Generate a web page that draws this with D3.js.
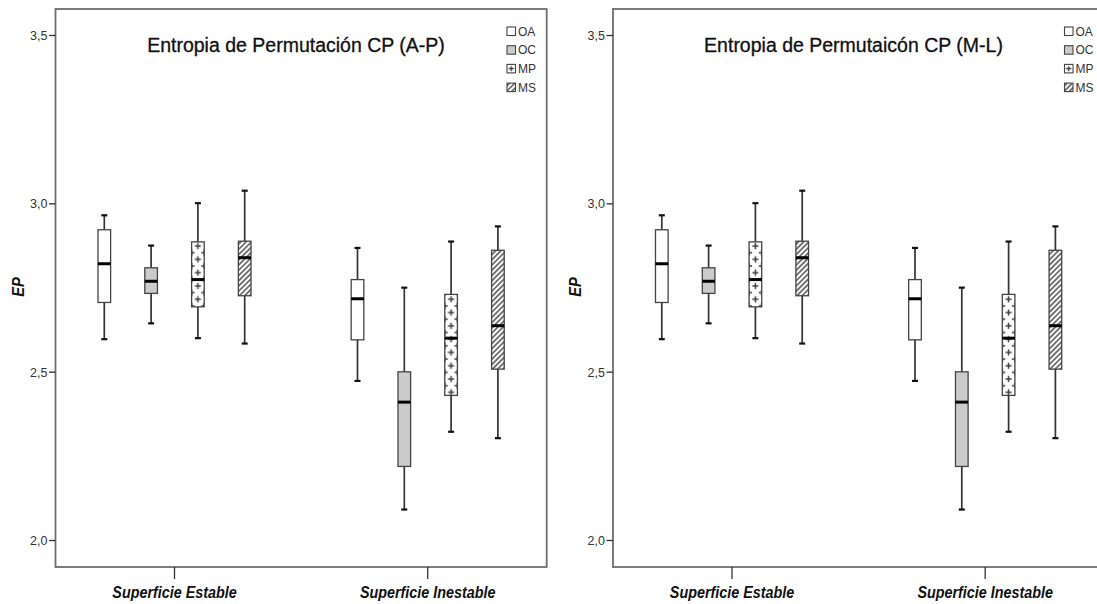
<!DOCTYPE html>
<html>
<head>
<meta charset="utf-8">
<script src="https://cdn.jsdelivr.net/npm/d3@7"></script>
<style>
  html, body { margin: 0; padding: 0; background: #fff; }
  svg { display: block; font-family: "Liberation Sans", Arial, sans-serif; }
</style>
</head>
<body>
<script>
// Permutation entropy (EP) box plots by surface and group
const categories = ["Superficie Estable", "Superficie Inestable"];
const groups = ["OA", "OC", "MP", "MS"];
const panelTitles = ["Entropia de Permutación CP (A-P)", "Entropia de Permutaicón CP (M-L)"];
const yTicks = [2.0, 2.5, 3.0, 3.5];

// box statistics, rows = surface, columns = group (OA, OC, MP, MS)
const whiskerLow  = [[2.598, 2.645, 2.601, 2.585], [2.474, 2.092, 2.323, 2.304]];
const quartile1   = [[2.707, 2.734, 2.694, 2.727], [2.596, 2.220, 2.431, 2.509]];
const medians     = [[2.822, 2.770, 2.775, 2.840], [2.718, 2.411, 2.601, 2.638]];
const quartile3   = [[2.923, 2.810, 2.887, 2.889], [2.775, 2.501, 2.731, 2.862]];
const whiskerHigh = [[2.966, 2.876, 3.002, 3.039], [2.869, 2.751, 2.888, 2.933]];

const W = 1097, H = 604;
const panelOffsets = [0, 557.5];
const frame = { left: 55.5, top: 9, right: 546.7, bottom: 567 };

const svg = d3.select("body").append("svg").attr("width", W).attr("height", H);
const defs = svg.append("defs");

const locale = d3.formatLocale({ decimal: ",", thousands: ".", grouping: [3], currency: ["", "€"] });
const fmt = locale.format(".1f");

const y = d3.scaleLinear().domain([2.0, 3.5]).range([540.5, 35.5]);
const x = d3.scalePoint().domain(categories).range([frame.left, frame.right]).padding(0.47);
const xg = d3.scaleBand().domain(groups).range([-93.6, 93.6]).paddingInner(0.73).paddingOuter(0.365);
const bw = xg.bandwidth();

const lineCol = "#333";
const fillFor = { OA: "#ffffff", OC: "#cbcbcb", MP: "url(#plus)", MS: "url(#hatch)" };
const legendFill = { OA: "#ffffff", OC: "#cbcbcb", MP: "url(#plusLegend)", MS: "url(#hatch)" };

// diagonal hatching used for MS
const hatch = defs.append("pattern").attr("id", "hatch")
  .attr("patternUnits", "userSpaceOnUse").attr("width", 3.7).attr("height", 3.7)
  .attr("patternTransform", "rotate(45)");
hatch.append("rect").attr("width", 3.7).attr("height", 3.7).attr("fill", "#fff");
hatch.append("line").attr("x1", 1.85).attr("x2", 1.85).attr("y1", 0).attr("y2", 3.7)
  .attr("stroke", "#333").attr("stroke-width", 1.3);

// plus-sign tiles used for MP (box-local coordinates, box centred on x = 0)
function plusPattern(id, x0, w, h, centers, arm, sw) {
  const p = defs.append("pattern").attr("id", id)
    .attr("patternUnits", "userSpaceOnUse").attr("x", x0).attr("y", 0)
    .attr("width", w).attr("height", h);
  p.append("rect").attr("width", w).attr("height", h).attr("fill", "#fff");
  centers.forEach(([cx, cy]) => {
    p.append("path")
      .attr("d", `M${cx - arm},${cy}H${cx + arm}M${cx},${cy - arm}V${cy + arm}`)
      .attr("stroke", "#3c3c3c").attr("stroke-width", sw).attr("fill", "none");
  });
}
const th = 13.3;
plusPattern("plus", -bw / 2, bw, th,
  [[bw / 2, th / 2], [0, 0], [bw, 0], [0, th], [bw, th]], 3, 1.5);
plusPattern("plusLegend", 0, 8.5, 8.5, [[4.25, 4.25]], 2.7, 1.3);

function drawPanel(pi) {
  const g = svg.append("g").attr("transform", `translate(${panelOffsets[pi]},0)`);

  // frame
  g.append("rect")
    .attr("x", frame.left).attr("y", frame.top)
    .attr("width", frame.right - frame.left).attr("height", frame.bottom - frame.top)
    .attr("fill", "#fff").attr("stroke", "#6e6e6e").attr("stroke-width", 1.8);

  // y axis ticks and labels
  const yAxis = g.append("g");
  yAxis.selectAll("line").data(yTicks).join("line")
    .attr("x1", frame.left - 6.5).attr("x2", frame.left)
    .attr("y1", d => y(d)).attr("y2", d => y(d))
    .attr("stroke", "#333").attr("stroke-width", 1.3);
  yAxis.selectAll("text").data(yTicks).join("text")
    .attr("x", frame.left - 8).attr("y", d => y(d)).attr("dy", "0.35em")
    .attr("text-anchor", "end").attr("font-size", 12.5).attr("fill", "#333")
    .text(d => fmt(d));

  // y title
  g.append("text")
    .attr("transform", `translate(18,287) rotate(-90) scale(0.92,1)`)
    .attr("text-anchor", "middle").attr("dy", "0.35em")
    .attr("font-size", 16).attr("font-weight", "bold").attr("font-style", "italic")
    .attr("fill", "#111").text("EP");

  // x ticks and labels
  const xAxis = g.append("g");
  xAxis.selectAll("line").data(categories).join("line")
    .attr("x1", d => x(d)).attr("x2", d => x(d))
    .attr("y1", frame.bottom).attr("y2", frame.bottom + 12)
    .attr("stroke", "#333").attr("stroke-width", 1.3);
  xAxis.selectAll("text").data(categories).join("text")
    .attr("transform", d => `translate(${x(d)},598) scale(0.87,1)`)
    .attr("text-anchor", "middle").attr("font-size", 16.5)
    .attr("font-weight", "bold").attr("font-style", "italic").attr("fill", "#111")
    .text(d => d);

  // title
  g.append("text")
    .attr("x", 296).attr("y", 52)
    .attr("text-anchor", "middle").attr("font-size", 19.5).attr("fill", "#111")
    .attr("stroke", "#111").attr("stroke-width", 0.3)
    .text(panelTitles[pi]);

  // boxes
  const rows = [];
  categories.forEach((c, ci) => groups.forEach((s, si) => rows.push({
    c, s, lo: whiskerLow[ci][si], q1: quartile1[ci][si], med: medians[ci][si],
    q3: quartile3[ci][si], hi: whiskerHigh[ci][si]
  })));

  const box = g.selectAll("g.box").data(rows).join("g").attr("class", "box")
    .attr("transform", d => `translate(${x(d.c) + xg(d.s) + bw / 2},0)`);

  box.append("line").attr("y1", d => y(d.hi)).attr("y2", d => y(d.q3))
    .attr("stroke", lineCol).attr("stroke-width", 1.7);
  box.append("line").attr("y1", d => y(d.q1)).attr("y2", d => y(d.lo))
    .attr("stroke", lineCol).attr("stroke-width", 1.7);
  box.append("line").attr("x1", -3).attr("x2", 3)
    .attr("y1", d => y(d.hi)).attr("y2", d => y(d.hi))
    .attr("stroke", "#111").attr("stroke-width", 2.2);
  box.append("line").attr("x1", -3).attr("x2", 3)
    .attr("y1", d => y(d.lo)).attr("y2", d => y(d.lo))
    .attr("stroke", "#111").attr("stroke-width", 2.2);

  box.append("rect")
    .attr("x", -bw / 2).attr("width", bw)
    .attr("y", d => y(d.q3)).attr("height", d => y(d.q1) - y(d.q3))
    .attr("fill", d => fillFor[d.s])
    .attr("stroke", "#444").attr("stroke-width", 1.3);

  box.append("line").attr("x1", -bw / 2).attr("x2", bw / 2)
    .attr("y1", d => y(d.med)).attr("y2", d => y(d.med))
    .attr("stroke", "#000").attr("stroke-width", 3);

  // legend
  const lg = g.append("g").attr("transform", "translate(507,27)");
  const item = lg.selectAll("g").data(groups).join("g")
    .attr("transform", (d, i) => `translate(0,${i * 18.7})`);
  item.append("rect").attr("width", 8.5).attr("height", 8.5)
    .attr("fill", d => legendFill[d])
    .attr("stroke", "#444").attr("stroke-width", 1.1);
  item.append("text").attr("x", 11).attr("y", 4.5).attr("dy", "0.35em")
    .attr("font-size", 12).attr("fill", "#333").text(d => d);
}

panelTitles.forEach((t, i) => drawPanel(i));
</script>
</body>
</html>
